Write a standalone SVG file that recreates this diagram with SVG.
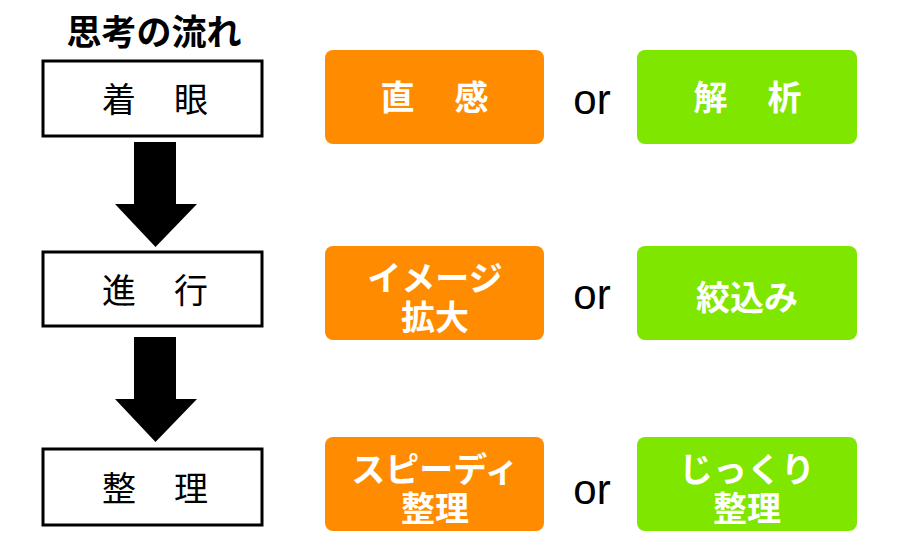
<svg xmlns="http://www.w3.org/2000/svg" width="900" height="550" viewBox="0 0 900 550">
<style>
.step{fill:#fff;stroke:#000;stroke-width:3}
.org{fill:#FF8C00}
.grn{fill:#7FE600}
.lt{font-family:"Noto Sans CJK JP","Noto Sans",sans-serif;font-size:34px;fill:#000;text-anchor:middle;dominant-baseline:central;letter-spacing:2px}
.bt{font-family:"Noto Sans CJK JP","Noto Sans",sans-serif;font-size:34px;font-weight:bold;fill:#fff;text-anchor:middle;dominant-baseline:central}
.sp{letter-spacing:3px}
.or{font-family:"Liberation Sans",Arial,sans-serif;font-size:42px;fill:#000;text-anchor:middle;dominant-baseline:central}
.ttl{font-family:"Noto Sans CJK JP","Noto Sans",sans-serif;font-size:35px;font-weight:bold;fill:#000;text-anchor:middle;dominant-baseline:central}
</style>
<rect width="900" height="550" fill="#fff"/>
<text class="ttl" x="154" y="29">思考の流れ</text>
<g id="connectors">
<polygon points="134,142 176,142 176,204 197,204 155.5,247 115,204 134,204" fill="#000"/>
<polygon points="134,337 176,337 176,399 197,399 155.5,442 115,399 134,399" fill="#000"/>
</g>
<g id="step1"><rect class="step" x="43" y="61" width="219" height="75"/><text class="lt" x="156" y="97">着　眼</text></g>
<g id="step2"><rect class="step" x="43" y="252" width="219" height="74"/><text class="lt" x="156" y="288">進　行</text></g>
<g id="step3"><rect class="step" x="43" y="449" width="219" height="76"/><text class="lt" x="156" y="486">整　理</text></g>
<g id="opt1a"><rect class="org" x="325" y="50" width="219" height="94" rx="8"/><text class="bt sp" x="436" y="95">直　感</text></g>
<g id="opt2a"><rect class="org" x="325" y="246" width="219" height="94" rx="8"/><text class="bt" x="435" y="276">イメージ</text><text class="bt" x="435" y="315">拡大</text></g>
<g id="opt3a"><rect class="org" x="325" y="437" width="219" height="94" rx="8"/><text class="bt" x="435" y="467">スピーディ</text><text class="bt" x="435" y="506">整理</text></g>
<g id="opt1b"><rect class="grn" x="637" y="50" width="220" height="94" rx="8"/><text class="bt sp" x="749" y="95">解　析</text></g>
<g id="opt2b"><rect class="grn" x="637" y="246" width="220" height="94" rx="8"/><text class="bt" x="747" y="295">絞込み</text></g>
<g id="opt3b"><rect class="grn" x="637" y="437" width="220" height="94" rx="8"/><text class="bt" x="747" y="467">じっくり</text><text class="bt" x="747" y="506">整理</text></g>
<text class="or" x="592" y="99">or</text>
<text class="or" x="592" y="294">or</text>
<text class="or" x="592" y="489">or</text>
</svg>
